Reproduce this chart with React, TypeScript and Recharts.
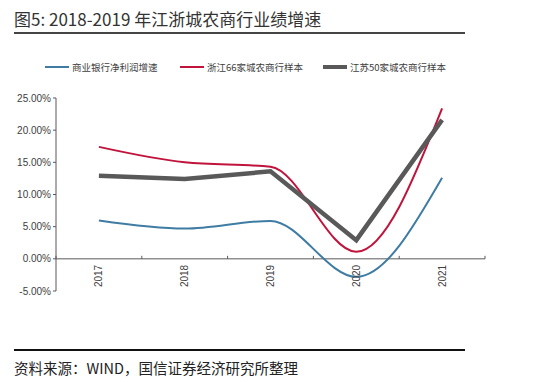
import React from "react";
import {
  LineChart,
  Line,
  XAxis,
  YAxis,
  Legend,
  ReferenceLine,
} from "recharts";

const years = ["2017", "2018", "2019", "2020", "2021"];
const bankProfit = [5.95, 4.7, 5.9, -2.8, 12.6];
const zhejiang66 = [17.4, 15.0, 14.3, 1.1, 23.4];
const jiangsu50 = [12.9, 12.4, 13.6, 2.9, 21.6];
const yTicks = [-5, 0, 5, 10, 15, 20, 25];

const data = years.map((year, i) => ({
  year,
  bank: bankProfit[i],
  zj: zhejiang66[i],
  js: jiangsu50[i],
}));

const W = 546;
const H = 382;
const TOP = 98;
const LEFT = 56;
const RIGHT = 61;
const BOTTOM = 91;
const LEGEND_H = 14;
const plotH = H - TOP - BOTTOM;
const plotW = W - LEFT - RIGHT;
const bandW = plotW / years.length;
// distance from the bottom of the plot up to the 0% line
const zeroShift = (plotH * (0 - yTicks[0])) / (yTicks[yTicks.length - 1] - yTicks[0]);

const font = "'Liberation Sans', Arial, sans-serif";
const cjk = "'Noto Sans CJK SC', 'Noto Sans', sans-serif";

function YearTick(props: any) {
  const { x, payload, index } = props;
  const baseY = TOP + plotH - zeroShift;
  const last = index === years.length - 1;
  return (
    <g>
      <line x1={x - bandW / 2} x2={x - bandW / 2} y1={baseY - 3} y2={baseY} stroke="#595959" />
      {last && (
        <line x1={x + bandW / 2} x2={x + bandW / 2} y1={baseY - 3} y2={baseY} stroke="#595959" />
      )}
      <text
        transform={`translate(${x}, ${baseY + 6}) rotate(-90)`}
        textAnchor="end"
        dy="0.35em"
        fontSize={10}
        fill="#404040"
        fontFamily={font}
      >
        {payload.value}
      </text>
    </g>
  );
}

function LegendContent() {
  const items = [
    { name: "商业银行净利润增速", color: "#3f7ca3", w: 2 },
    { name: "浙江66家城农商行样本", color: "#c0143c", w: 2 },
    { name: "江苏50家城农商行样本", color: "#595959", w: 4 },
  ];
  const lefts = [45, 180, 323];
  return (
    <div style={{ position: "relative", width: W, height: LEGEND_H }}>
      {items.map((it, i) => (
        <div
          key={it.name}
          style={{
            position: "absolute",
            left: lefts[i],
            top: 0,
            display: "flex",
            alignItems: "center",
            fontFamily: cjk,
            fontSize: 9.5,
            color: "#404040",
            whiteSpace: "nowrap",
          }}
        >
          <span
            style={{
              display: "inline-block",
              width: 24,
              height: it.w,
              background: it.color,
              marginRight: 3,
            }}
          />
          {it.name}
        </div>
      ))}
    </div>
  );
}

export default function App() {
  return (
    <div
      style={{
        position: "absolute",
        left: 0,
        top: 0,
        width: W,
        height: H,
        background: "#fff",
        overflow: "hidden",
      }}
    >
      <div
        style={{
          position: "absolute",
          left: 14,
          top: 6,
          fontFamily: cjk,
          fontSize: 17,
          color: "#333",
          whiteSpace: "nowrap",
        }}
      >
        图5: 2018-2019 年江浙城农商行业绩增速
      </div>
      <div
        style={{
          position: "absolute",
          left: 14,
          top: 32,
          width: 451,
          height: 1.5,
          background: "#444",
        }}
      />
      <LineChart
        width={W}
        height={H}
        data={data}
        margin={{ top: TOP - LEGEND_H, right: RIGHT, bottom: BOTTOM - 30, left: 0 }}
      >
        <XAxis
          dataKey="year"
          axisLine={false}
          tickLine={false}
          interval={0}
          height={30}
          padding={{ left: bandW / 2, right: bandW / 2 }}
          tick={<YearTick />}
        />
        <YAxis
          width={LEFT}
          domain={[-5, 25]}
          ticks={yTicks}
          interval={0}
          tickFormatter={(v: number) => v.toFixed(2) + "%"}
          tickSize={3}
          tick={{ fontSize: 10, fill: "#404040", fontFamily: font }}
          axisLine={{ stroke: "#595959" }}
          tickLine={{ stroke: "#595959" }}
        />
        <ReferenceLine y={0} stroke="#595959" strokeWidth={1} />
        <Legend
          verticalAlign="top"
          wrapperStyle={{ top: 60, left: 0, width: W }}
          content={<LegendContent />}
        />
        <Line
          type="monotone"
          dataKey="bank"
          stroke="#3f7ca3"
          strokeWidth={2}
          dot={false}
          isAnimationActive={false}
        />
        <Line
          type="monotone"
          dataKey="zj"
          stroke="#c0143c"
          strokeWidth={2}
          dot={false}
          isAnimationActive={false}
        />
        <Line
          type="linear"
          dataKey="js"
          stroke="#595959"
          strokeWidth={4.5}
          dot={false}
          isAnimationActive={false}
        />
      </LineChart>
      <div
        style={{
          position: "absolute",
          left: 14,
          top: 349,
          width: 451,
          height: 1.5,
          background: "#111",
        }}
      />
      <div
        style={{
          position: "absolute",
          left: 14,
          top: 357,
          fontFamily: cjk,
          fontSize: 14.5,
          color: "#222",
          whiteSpace: "nowrap",
        }}
      >
        资料来源：WIND，国信证券经济研究所整理
      </div>
    </div>
  );
}
